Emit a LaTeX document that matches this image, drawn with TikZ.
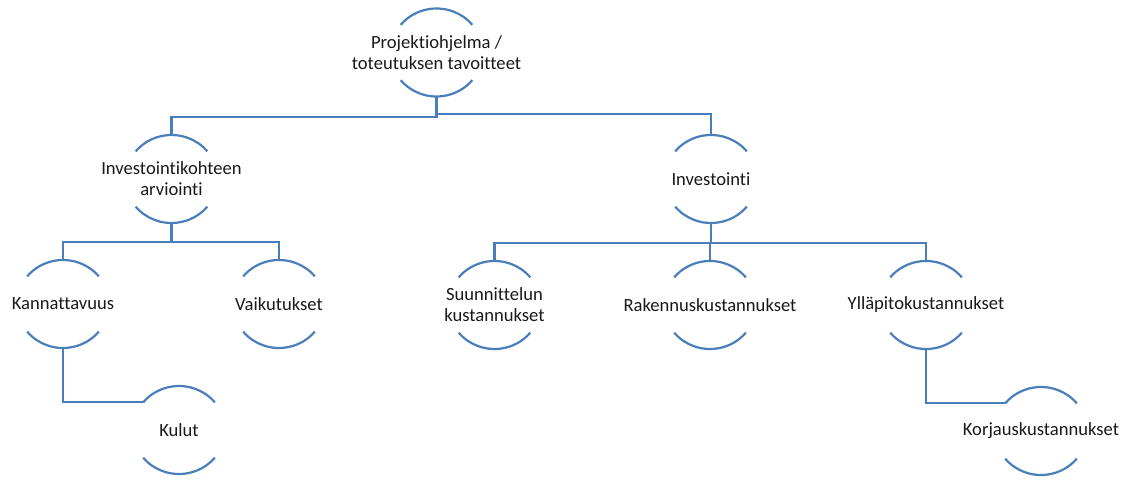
\documentclass[tikz,border=0pt]{standalone}
\usepackage{fontspec}
\setmainfont{Carlito}[Ligatures=NoCommon]
\definecolor{lineblue}{RGB}{74,126,187}
\tikzset{
  bub/.style={rectangle, minimum width=92pt, minimum height=88pt, inner sep=0pt,
    align=center, text=black!90, font=\fontsize{18.6}{21}\selectfont},
  conn/.style={draw=lineblue, line width=2.2pt},
  arcline/.style={draw=lineblue, line width=2.2pt}
}
\begin{document}
\begin{tikzpicture}[x=1pt, y=-1pt]
\useasboundingbox (0,0) rectangle (1126,479);
\node[bub] (top) at (436.5,52.5) {Projektiohjelma /\\toteutuksen tavoitteet};
\node[bub] (invarv) at (171.5,179) {Investointikohteen\\arviointi};
\node[bub] (inv) at (711,179) {Investointi};
\node[bub] (kann) at (63,304) {Kannattavuus};
\node[bub] (vaik) at (279,304) {Vaikutukset};
\node[bub] (kulut) at (179,430) {Kulut};
\node[bub] (suun) at (494.5,305) {Suunnittelun\\kustannukset};
\node[bub] (rak) at (710,305) {Rakennuskustannukset};
\node[bub] (yll) at (926,305) {Ylläpitokustannukset};
\node[bub] (korj) at (1041,431) {Korjauskustannukset};
\foreach \n in {top,invarv,inv,kann,vaik,kulut,suun,rak,yll,korj}{
  \draw[arcline] ([shift={(39:46pt and 44pt)}]\n.center) arc[start angle=39, end angle=141, x radius=46pt, y radius=44pt];
  \draw[arcline] ([shift={(219:46pt and 44pt)}]\n.center) arc[start angle=219, end angle=321, x radius=46pt, y radius=44pt];
}
\draw[conn] (top.south) -- ++(0,20) -| (invarv.north);
\draw[conn] (top.south) -- ++(0,17.5) -| (inv.north);
\draw[conn] (invarv.south) -- ++(0,19) -| (kann.north);
\draw[conn] (invarv.south) -- ++(0,19) -| (vaik.north);
\draw[conn] (inv.south) -- ++(0,20) -| (suun.north);
\draw[conn] (inv.south) -- ++(0,20) -| (rak.north);
\draw[conn] (inv.south) -- ++(0,20) -| (yll.north);
\draw[conn] (kann.south) |- ([shift={(141:46pt and 44pt)}]kulut.center);
\draw[conn] (yll.south) |- ([shift={(141:46pt and 44pt)}]korj.center);
\end{tikzpicture}
\end{document}
